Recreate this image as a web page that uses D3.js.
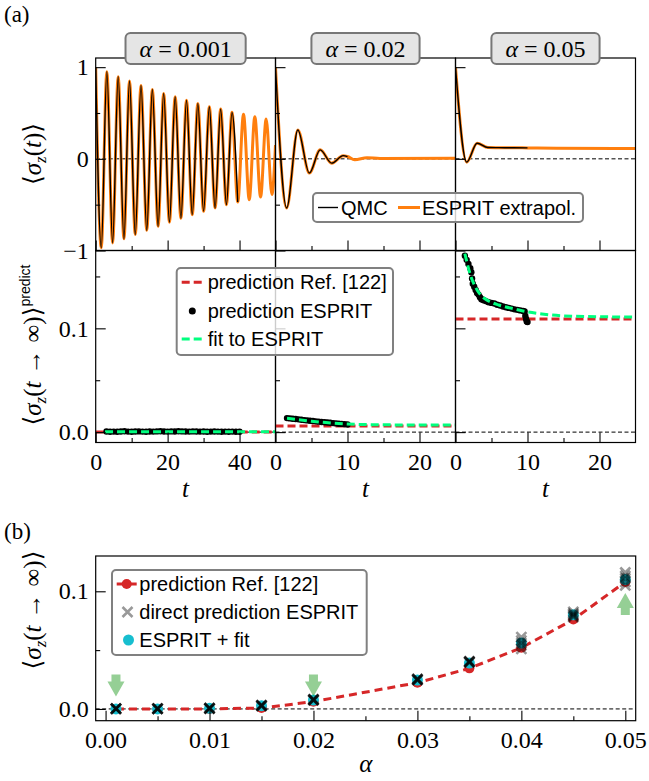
<!DOCTYPE html>
<html>
<head>
<meta charset="utf-8">
<script src="https://cdn.jsdelivr.net/npm/d3@7"></script>
<style>
body { margin: 0; background: #fff; }
</style>
</head>
<body>
<svg id="chart" width="649" height="781"></svg>
<script>
// ---- data ----
const alphaLabels = ['0.001', '0.02', '0.05'];
const tMax = [50, 25, 25];
const tMajor = [[0, 20, 40], [0, 10, 20], [0, 10, 20]];
const tMinor = [[10, 30], [5, 15], [5, 15]];
const qmcEnd = [40, 10, 10];

// <sigma_z(t)>: turning points of the curves (ESPRIT extrapolation spans the full range)
const curveT = [
    [0, 1.55, 3.1, 4.7, 6.25, 7.85, 9.4, 11.0, 12.6, 14.2, 15.75, 17.35, 18.9, 20.5, 22.1, 23.7,
        25.25, 26.85, 28.4, 30.0, 31.6, 33.2, 34.75, 36.35, 37.9, 39.5, 41.1, 42.7, 44.25, 45.85, 47.4, 49.0, 50],
    [0, 1.55, 3.1, 4.7, 6.2, 7.8, 9.4, 10, 11.0, 12.7, 14.5, 25],
    [0, 1.55, 3.0, 4.5, 6, 8, 10, 14, 25]
];
const curveV = [
    [1.0, -0.97, 0.95, -0.917, 0.895, -0.873, 0.85, -0.826, 0.80, -0.78, 0.757, -0.736, 0.714, -0.692, 0.677, -0.649,
        0.64, -0.609, 0.605, -0.572, 0.568, -0.536, 0.543, -0.50, 0.507, -0.471, 0.486, -0.446, 0.46, -0.417, 0.435, -0.39, 0.15],
    [1.0, -0.536, 0.315, -0.155, 0.098, -0.047, 0.035, 0.025, -0.011, 0.012, 0.004, 0.007],
    [1.0, -0.036, 0.17, 0.123, 0.122, 0.121, 0.119, 0.115, 0.113]
];

// time dependent ESPRIT predictions (dots)
const predT = [
    [3, 4, 5, 6, 7, 8, 9, 10, 11, 12, 13, 14, 15, 16, 17, 18, 19, 20, 21, 22, 23, 24, 25, 26, 27, 28, 29, 30,
        31, 32, 33, 34, 35, 36, 37, 38, 39, 40],
    [1.6, 2.0, 2.4, 2.8, 3.2, 3.6, 4.0, 4.4, 4.8, 5.2, 5.6, 6.0, 6.4, 6.8, 7.2, 7.6, 8.0, 8.4, 8.8, 9.2, 9.6, 10.0],
    [1.3, 1.55, 1.8, 2.05, 2.2, 2.3, 2.4, 2.6, 2.8, 3.0, 3.2, 3.4, 3.6, 3.8, 4.0, 4.3, 4.6, 5.0, 5.4, 5.8, 6.2,
        6.6, 7.0, 7.4, 7.8, 8.2, 8.6, 9.0, 9.4, 9.6, 9.7, 9.8, 9.9, 10.0]
];
const predV = [
    [0.0006, 0.0004, 0.0005, 0.0003, 0.0006, 0.0008, 0.0005, 0.0004, 0.0006, 0.0007, 0.0005, 0.0004, 0.0006, 0.0005,
        0.0007, 0.0008, 0.0006, 0.0005, 0.0007, 0.0006, 0.0008, 0.0007, 0.0006, 0.0005, 0.0007, 0.0006, 0.0005, 0.0006,
        0.0004, 0.0005, 0.0006, 0.0005, 0.0004, 0.0005, 0.0004, 0.0005, 0.0004, 0.0003],
    [0.0135, 0.0132, 0.0129, 0.0126, 0.0123, 0.0119, 0.0116, 0.0113, 0.0110, 0.0107, 0.0104, 0.0101, 0.0098,
        0.0095, 0.0092, 0.0090, 0.0087, 0.0084, 0.0081, 0.0079, 0.0076, 0.0073],
    [0.170, 0.166, 0.162, 0.158, 0.154, 0.148, 0.143, 0.140, 0.137, 0.134, 0.1325, 0.130, 0.128, 0.1275, 0.1268,
        0.126, 0.1252, 0.1245, 0.124, 0.1228, 0.122, 0.121, 0.1203, 0.1197, 0.119, 0.1183, 0.1178, 0.1173, 0.1168,
        0.1163, 0.112, 0.109, 0.1065, 0.106]
];

// fit to the ESPRIT predictions
const fitT = [
    [2.6, 50],
    [1.6, 3, 5, 7, 10, 13, 16, 20, 25],
    [1.3, 2, 3, 4, 5, 6, 7, 8, 10, 12, 15, 20, 25]
];
const fitV = [
    [0.0004, 0.0004],
    [0.0133, 0.0121, 0.0105, 0.0092, 0.0078, 0.0072, 0.0070, 0.0069, 0.0069],
    [0.172, 0.153, 0.137, 0.129, 0.125, 0.1225, 0.1205, 0.119, 0.1158, 0.1138, 0.112, 0.1112, 0.1108]
];
const refPred = [0.0, 0.006, 0.109];

// panel (b)
const alphaB = [0.001, 0.005, 0.01, 0.015, 0.02, 0.03, 0.035, 0.04, 0.045, 0.05];
const refB = [0.0, 0.0, 0.0, 0.0008, 0.0062, 0.0223, 0.0345, 0.052, 0.076, 0.108];
const fitB = [0.0, 0.0, 0.0005, 0.0028, 0.0076, 0.0246, 0.039, 0.056, 0.080, 0.110];
const directB = [
    [0.0, 0.0002, 0.0004, 0.0001, 0.0003],
    [0.0, 0.0003, 0.0001, 0.0004, 0.0002],
    [0.0005, 0.0008, 0.0003, 0.0006, 0.0004],
    [0.0028, 0.0032, 0.0025, 0.0030, 0.0027],
    [0.0078, 0.0082, 0.0074, 0.0079, 0.0076],
    [0.0250, 0.0255, 0.0245, 0.0252, 0.0248],
    [0.0400, 0.0405, 0.0395, 0.0402, 0.0400],
    [0.061, 0.058, 0.056, 0.054, 0.051],
    [0.0825, 0.081, 0.080, 0.079, 0.078],
    [0.116, 0.113, 0.111, 0.108, 0.105]
];
const arrowAlpha = [0.001, 0.02, 0.05];
const arrowTip = [0.0105, 0.0105, 0.0985];
const arrowDir = [-1, -1, 1];

// ---- layout ----
const serif = '"Liberation Serif", "DejaVu Serif", serif';
const sans = '"Liberation Sans", "DejaVu Sans", sans-serif';
const colX = [[95.7, 275.5], [275.5, 455.5], [455.5, 635.5]];
const rowTop = [58, 250.5];
const rowBot = [250.5, 442.5];
const orange = '#ff7f0e', red = '#d62728', cyan = '#17becf', green = '#00ff7f';

const svg = d3.select('#chart');
const defs = svg.append('defs');

const yTop = d3.scaleLinear().domain([-1, 1.1]).range([rowTop[1], rowTop[0]]);
const yBot = d3.scaleLinear().domain([-0.01, 0.175]).range([rowBot[1], rowBot[0]]);
const xScales = tMax.map((m, i) => d3.scaleLinear().domain([0, m]).range(colX[i]));

const addAxis = (axisGen, transform) => {
    const g = svg.append('g').attr('transform', transform).call(axisGen);
    g.select('.domain').remove();
    g.selectAll('line').attr('stroke', '#000').attr('stroke-width', 1.1);
    g.selectAll('text')
        .attr('font-family', serif)
        .attr('font-size', 24)
        .attr('fill', '#000');
    return g;
};

const clip = (id, x0, y0, x1, y1) => {
    defs.append('clipPath').attr('id', id)
        .append('rect').attr('x', x0).attr('y', y0).attr('width', x1 - x0).attr('height', y1 - y0);
    return svg.append('g').attr('clip-path', `url(#${id})`);
};

const zeroLine = (g, x0, x1, y) => g.append('line')
    .attr('x1', x0).attr('x2', x1).attr('y1', y).attr('y2', y)
    .attr('stroke', '#000').attr('stroke-width', 1).attr('stroke-dasharray', '4,2.5');

const frame = (x0, y0, x1, y1) => svg.append('rect')
    .attr('x', x0).attr('y', y0).attr('width', x1 - x0).attr('height', y1 - y0)
    .attr('fill', 'none').attr('stroke', '#000').attr('stroke-width', 1.2);

// ---- panel (a) ----
alphaLabels.forEach((a, i) => {
    const x = xScales[i];
    const [x0, x1] = colX[i];

    // top row: <sigma_z(t)>
    const gT = clip('clipT' + i, x0, rowTop[0], x1, rowTop[1]);
    zeroLine(gT, x0, x1, yTop(0));
    const pts = curveT[i].map((t, j) => [t, curveV[i][j]]);
    const line = d3.line().x(d => x(d[0])).y(d => yTop(d[1])).curve(d3.curveMonotoneX);
    gT.append('path').datum(pts).attr('d', line)
        .attr('fill', 'none').attr('stroke', orange).attr('stroke-width', 3);
    gT.append('path').datum(pts.filter(d => d[0] <= qmcEnd[i])).attr('d', line)
        .attr('fill', 'none').attr('stroke', '#000').attr('stroke-width', 1.4);

    // bottom row: predictions
    const gB = clip('clipB' + i, x0, rowBot[0], x1, rowBot[1]);
    zeroLine(gB, x0, x1, yBot(0));
    gB.append('line')
        .attr('x1', x0).attr('x2', x1).attr('y1', yBot(refPred[i])).attr('y2', yBot(refPred[i]))
        .attr('stroke', red).attr('stroke-width', 3).attr('stroke-dasharray', '8,4');
    gB.selectAll('circle.pred')
        .data(predT[i].map((t, j) => [t, predV[i][j]]))
        .enter()
        .append('circle')
        .attr('cx', d => x(d[0]))
        .attr('cy', d => yBot(d[1]))
        .attr('r', 3.2)
        .attr('fill', '#000');
    const fitLine = d3.line().x(d => x(d[0])).y(d => yBot(d[1])).curve(d3.curveMonotoneX);
    gB.append('path').datum(fitT[i].map((t, j) => [t, fitV[i][j]])).attr('d', fitLine)
        .attr('fill', 'none').attr('stroke', green).attr('stroke-width', 3).attr('stroke-dasharray', '8,4');

    // axes
    addAxis(d3.axisBottom(x).tickValues(tMajor[i]).tickSize(-10).tickFormat(''), `translate(0,${rowTop[1]})`);
    addAxis(d3.axisBottom(x).tickValues(tMinor[i]).tickSize(-4.5).tickFormat(''), `translate(0,${rowTop[1]})`);
    addAxis(d3.axisBottom(x).tickValues(tMajor[i]).tickSize(-10).tickPadding(10).tickFormat(d3.format('d')),
        `translate(0,${rowBot[1]})`);
    addAxis(d3.axisBottom(x).tickValues(tMinor[i]).tickSize(-4.5).tickFormat(''), `translate(0,${rowBot[1]})`);

    const fmtTop = i === 0 ? d3.format('d') : '';
    const fmtBot = i === 0 ? d3.format('.1f') : '';
    addAxis(d3.axisLeft(yTop).tickValues([-1, 0, 1]).tickSize(-10).tickPadding(7).tickFormat(fmtTop),
        `translate(${x0},0)`);
    addAxis(d3.axisLeft(yTop).tickValues([-0.5, 0.5]).tickSize(-4.5).tickFormat(''), `translate(${x0},0)`);
    addAxis(d3.axisLeft(yBot).tickValues([0, 0.1]).tickSize(-10).tickPadding(7).tickFormat(fmtBot),
        `translate(${x0},0)`);
    addAxis(d3.axisLeft(yBot).tickValues([0.05, 0.15]).tickSize(-4.5).tickFormat(''), `translate(${x0},0)`);

    frame(x0, rowTop[0], x1, rowTop[1]);
    frame(x0, rowBot[0], x1, rowBot[1]);

    svg.append('text')
        .attr('x', (x0 + x1) / 2).attr('y', 497)
        .attr('text-anchor', 'middle')
        .attr('font-family', serif).attr('font-size', 25).attr('font-style', 'italic')
        .text('t');
});

// title boxes
alphaLabels.forEach((a, i) => {
    const cx = (colX[i][0] + colX[i][1]) / 2;
    const box = svg.append('rect');
    const txt = svg.append('text')
        .attr('x', cx).attr('y', 56.5)
        .attr('text-anchor', 'middle')
        .attr('font-family', serif).attr('font-size', 24);
    txt.append('tspan').attr('font-style', 'italic').text('α');
    txt.append('tspan').attr('dx', 6).text('=');
    txt.append('tspan').attr('dx', 6).text(a);
    const bb = txt.node().getBBox();
    box.attr('x', bb.x - 14).attr('y', 33).attr('width', bb.width + 28).attr('height', 31)
        .attr('rx', 5)
        .attr('fill', '#e5e5e5').attr('stroke', '#777').attr('stroke-width', 2);
});

// y labels
const sigmaLabel = (x, y, inf, sup) => {
    const t = svg.append('text')
        .attr('transform', `translate(${x},${y}) rotate(-90)`)
        .attr('text-anchor', 'middle')
        .attr('font-family', serif).attr('font-size', 25);
    t.append('tspan').text('⟨');
    t.append('tspan').attr('font-style', 'italic').text('σ');
    t.append('tspan').attr('font-style', 'italic').attr('font-size', 17).attr('dy', 5).text('z');
    t.append('tspan').attr('dy', -5).text('(');
    t.append('tspan').attr('font-style', 'italic').text('t');
    if (inf) {
        t.append('tspan').attr('dx', 7).text('→');
        t.append('tspan').attr('dx', 7).text('∞');
    }
    t.append('tspan').text(')⟩');
    if (sup) {
        t.append('tspan').attr('font-family', sans).attr('font-size', 14).attr('dy', -11).text(sup);
    }
};
sigmaLabel(41, 154, false, null);
sigmaLabel(41, 345, true, 'predict');

svg.append('text').attr('x', 4).attr('y', 22)
    .attr('font-family', serif).attr('font-size', 23).text('(a)');

// legends
const legendBox = (x0, y0, x1, y1) => svg.append('rect')
    .attr('x', x0).attr('y', y0).attr('width', x1 - x0).attr('height', y1 - y0)
    .attr('rx', 4).attr('fill', '#fff').attr('fill-opacity', 0.8)
    .attr('stroke', '#808080').attr('stroke-width', 2);
const legendText = (x, y, s) => svg.append('text')
    .attr('x', x).attr('y', y + 7)
    .attr('font-family', sans).attr('font-size', 20).text(s);

legendBox(313, 193, 583, 222);
svg.append('line').attr('x1', 318).attr('x2', 338).attr('y1', 207.5).attr('y2', 207.5)
    .attr('stroke', '#000').attr('stroke-width', 1.4);
legendText(341, 207.5, 'QMC');
svg.append('line').attr('x1', 398).attr('x2', 420).attr('y1', 207.5).attr('y2', 207.5)
    .attr('stroke', orange).attr('stroke-width', 3);
legendText(422, 207.5, 'ESPRIT extrapol.');

legendBox(176.7, 268, 393, 355);
const rowsA = [282.3, 311, 339];
svg.append('line').attr('x1', 181.7).attr('x2', 203).attr('y1', rowsA[0]).attr('y2', rowsA[0])
    .attr('stroke', red).attr('stroke-width', 3).attr('stroke-dasharray', '8,4');
legendText(207.7, rowsA[0], 'prediction Ref. [122]');
svg.append('circle').attr('cx', 192.3).attr('cy', rowsA[1]).attr('r', 3.5).attr('fill', '#000');
legendText(207.7, rowsA[1], 'prediction ESPRIT');
svg.append('line').attr('x1', 181.7).attr('x2', 203).attr('y1', rowsA[2]).attr('y2', rowsA[2])
    .attr('stroke', green).attr('stroke-width', 3).attr('stroke-dasharray', '8,4');
legendText(207.7, rowsA[2], 'fit to ESPRIT');

// ---- panel (b) ----
const bX = [95.7, 635.7], bY = [556, 720.7];
const xB = d3.scaleLinear().domain([-0.00095, 0.051]).range(bX);
const yB = d3.scaleLinear().domain([-0.01, 0.13]).range([bY[1], bY[0]]);

const gb = clip('clipPb', bX[0], bY[0], bX[1], bY[1]);
zeroLine(gb, bX[0], bX[1], yB(0));

gb.append('path')
    .datum(alphaB.map((a, j) => [a, refB[j]]))
    .attr('d', d3.line().x(d => xB(d[0])).y(d => yB(d[1])))
    .attr('fill', 'none').attr('stroke', red).attr('stroke-width', 3).attr('stroke-dasharray', '8,5');
gb.selectAll('circle.ref')
    .data(alphaB.map((a, j) => [a, refB[j]]))
    .enter()
    .append('circle')
    .attr('cx', d => xB(d[0])).attr('cy', d => yB(d[1])).attr('r', 5)
    .attr('fill', red);
gb.selectAll('circle.fit')
    .data(alphaB.map((a, j) => [a, fitB[j]]))
    .enter()
    .append('circle')
    .attr('cx', d => xB(d[0])).attr('cy', d => yB(d[1])).attr('r', 5.5)
    .attr('fill', cyan);

const crossPath = (cx, cy, s) =>
    `M${cx - s},${cy - s}L${cx + s},${cy + s}M${cx - s},${cy + s}L${cx + s},${cy - s}`;
const directPts = alphaB.flatMap((a, j) => directB[j].map(v => [a, v]));
gb.selectAll('path.direct')
    .data(directPts)
    .enter()
    .append('path')
    .attr('d', d => crossPath(xB(d[0]), yB(d[1]), 5))
    .attr('stroke', '#000').attr('stroke-opacity', 0.4).attr('stroke-width', 2.6);

// green arrows
arrowAlpha.forEach((a, k) => {
    const cx = xB(a), ty = yB(arrowTip[k]), s = -arrowDir[k];
    const p = [[cx - 4.5, ty - s * 22], [cx + 4.5, ty - s * 22], [cx + 4.5, ty - s * 15], [cx + 8.5, ty - s * 15],
        [cx, ty], [cx - 8.5, ty - s * 15], [cx - 4.5, ty - s * 15]];
    svg.append('path').attr('d', 'M' + p.join('L') + 'Z')
        .attr('fill', '#2ca02c').attr('fill-opacity', 0.5);
});

addAxis(d3.axisBottom(xB).tickValues([0, 0.01, 0.02, 0.03, 0.04, 0.05]).tickSize(-10).tickPadding(10)
    .tickFormat(d3.format('.2f')), `translate(0,${bY[1]})`);
addAxis(d3.axisBottom(xB).tickValues([0.005, 0.015, 0.025, 0.035, 0.045]).tickSize(-4.5).tickFormat(''),
    `translate(0,${bY[1]})`);
addAxis(d3.axisLeft(yB).tickValues([0, 0.1]).tickSize(-10).tickPadding(7).tickFormat(d3.format('.1f')),
    `translate(${bX[0]},0)`);
addAxis(d3.axisLeft(yB).tickValues([0.05]).tickSize(-4.5).tickFormat(''), `translate(${bX[0]},0)`);
frame(bX[0], bY[0], bX[1], bY[1]);

sigmaLabel(41, 610, true, null);
svg.append('text').attr('x', (bX[0] + bX[1]) / 2).attr('y', 772)
    .attr('text-anchor', 'middle')
    .attr('font-family', serif).attr('font-size', 25).attr('font-style', 'italic').text('α');
svg.append('text').attr('x', 4).attr('y', 539)
    .attr('font-family', serif).attr('font-size', 23).text('(b)');

legendBox(112, 570, 366.7, 655);
const rowsB = [584, 612, 640];
svg.append('line').attr('x1', 116.7).attr('x2', 136.7).attr('y1', rowsB[0]).attr('y2', rowsB[0])
    .attr('stroke', red).attr('stroke-width', 3).attr('stroke-dasharray', '8,5');
svg.append('circle').attr('cx', 126.7).attr('cy', rowsB[0]).attr('r', 5).attr('fill', red);
legendText(139.3, rowsB[0], 'prediction Ref. [122]');
svg.append('path').attr('d', crossPath(127.5, rowsB[1], 5))
    .attr('stroke', '#000').attr('stroke-opacity', 0.4).attr('stroke-width', 2.6);
legendText(139.3, rowsB[1], 'direct prediction ESPRIT');
svg.append('circle').attr('cx', 128.5).attr('cy', rowsB[2]).attr('r', 5.5).attr('fill', cyan);
legendText(139.3, rowsB[2], 'ESPRIT + fit');
</script>
</body>
</html>
